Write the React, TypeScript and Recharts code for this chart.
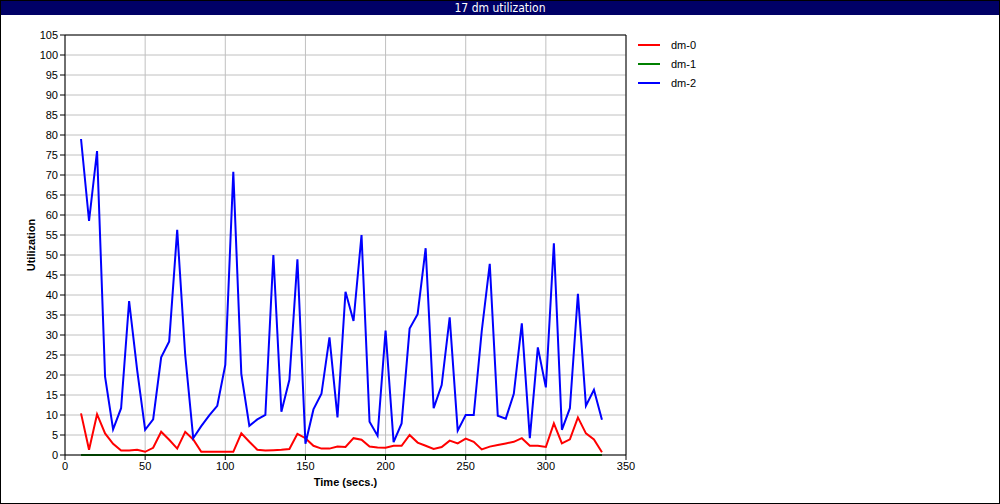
import {
  LineChart,
  Line,
  XAxis,
  YAxis,
  CartesianGrid,
  Legend,
  ReferenceLine,
  Label,
} from "recharts";

const TITLE = "17 dm utilization";

// sample times (secs.)
const times = [
  10, 15, 20, 25, 30, 35, 40, 45, 50, 55, 60, 65, 70, 75, 80, 85, 90, 95, 100,
  105, 110, 115, 120, 125, 130, 135, 140, 145, 150, 155, 160, 165, 170, 175,
  180, 185, 190, 195, 200, 205, 210, 215, 220, 225, 230, 235, 240, 245, 250,
  255, 260, 265, 270, 275, 280, 285, 290, 295, 300, 305, 310, 315, 320, 325,
  330, 335,
];

const dm0 = [
  10.4, 1.3, 10.2, 5.4, 2.8, 1.1, 1.1, 1.3, 0.8, 1.8, 5.8, 3.8, 1.6, 5.8, 3.9,
  0.8, 0.8, 0.8, 0.8, 0.8, 5.4, 3.3, 1.3, 1.1, 1.2, 1.3, 1.5, 5.3, 4.2, 2.3,
  1.6, 1.6, 2.1, 2.0, 4.2, 3.8, 2.1, 1.9, 1.8, 2.3, 2.3, 5.0, 3.1, 2.3, 1.5,
  2.0, 3.6, 2.9, 4.1, 3.3, 1.4, 2.1, 2.5, 2.9, 3.3, 4.2, 2.3, 2.3, 2.0, 7.9,
  2.9, 3.9, 9.4, 5.4, 3.9, 0.7,
];

const dm1 = [
  0, 0, 0, 0, 0, 0, 0, 0, 0, 0, 0, 0, 0, 0, 0, 0, 0, 0, 0, 0, 0, 0, 0, 0, 0,
  0, 0, 0, 0, 0, 0, 0, 0, 0, 0, 0, 0, 0, 0, 0, 0, 0, 0, 0, 0, 0, 0, 0, 0, 0,
  0, 0, 0, 0, 0, 0, 0, 0, 0, 0, 0, 0, 0, 0, 0, 0,
];

const dm2 = [
  79, 58.5, 76, 19.6, 6.4, 11.7, 38.5, 21.3, 6.3, 8.9, 24.4, 28.4, 56.3, 25,
  4.2, 7.2, 9.9, 12.3, 22.5, 70.8, 20.3, 7.3, 8.9, 10, 50, 10.8, 18.8, 48.9,
  2.8, 11.4, 15.3, 29.4, 9.4, 40.8, 33.5, 55, 8.3, 4.8, 31.1, 3.2, 7.9, 31.6,
  35.2, 51.7, 11.7, 17.5, 34.4, 6.1, 10, 10, 31, 47.8, 9.8, 9.1, 15.3, 32.9,
  4.2, 26.9, 16.9, 52.9, 6.3, 11.7, 40.3, 12.3, 16.3, 8.8,
];

const xTicks = [0, 50, 100, 150, 200, 250, 300, 350];
const yTicks = [
  0, 5, 10, 15, 20, 25, 30, 35, 40, 45, 50, 55, 60, 65, 70, 75, 80, 85, 90, 95,
  100, 105,
];

const series = [
  { key: "dm0", name: "dm-0", color: "#ff0000" },
  { key: "dm1", name: "dm-1", color: "#008000" },
  { key: "dm2", name: "dm-2", color: "#0000ff" },
];

const rows = times.map((t, i) => ({ t, dm0: dm0[i], dm1: dm1[i], dm2: dm2[i] }));

const FONT = "'Liberation Sans', Arial, sans-serif";

function LegendBox({ payload }: any) {
  return (
    <div>
      {(payload || []).map((p: any) => (
        <div
          key={p.value}
          style={{ display: "flex", alignItems: "center", height: 19 }}
        >
          <div
            style={{ width: 22, height: 2, background: p.color, marginRight: 11 }}
          />
          <span style={{ fontSize: 11, color: "#000", fontFamily: FONT }}>
            {p.value}
          </span>
        </div>
      ))}
    </div>
  );
}

export default function App() {
  return (
    <div
      style={{
        position: "fixed",
        left: 0,
        top: 0,
        width: 1000,
        height: 504,
        border: "1px solid #000",
        boxSizing: "border-box",
        background: "#fff",
        fontFamily: FONT,
      }}
    >
      <div
        style={{
          height: 14,
          background: "#000066",
          color: "#fff",
          fontFamily: "'Liberation Sans Narrow', 'DejaVu Sans Condensed', sans-serif",
          fontSize: 12,
          lineHeight: "14px",
          textAlign: "center",
        }}
      >
        {TITLE}
      </div>
      <div style={{ position: "absolute", left: -1, top: -1 }}>
        <LineChart
          width={1000}
          height={504}
          data={rows}
          margin={{ top: 35, right: 374, bottom: 0, left: 0 }}
        >
          <CartesianGrid stroke="#c0c0c0" strokeWidth={1} />
          <XAxis
            dataKey="t"
            type="number"
            domain={[0, 350]}
            ticks={xTicks}
            height={49}
            tickSize={5}
            tickMargin={2}
            stroke="#000"
            tick={{ fill: "#000", fontSize: 11, fontFamily: FONT }}
          >
            <Label
              content={() => (
                <text
                  x={345.5}
                  y={486}
                  textAnchor="middle"
                  fontSize={11}
                  fontWeight="bold"
                  fontFamily={FONT}
                  fill="#000"
                >
                  Time (secs.)
                </text>
              )}
            />
          </XAxis>
          <YAxis
            type="number"
            domain={[0, 105]}
            ticks={yTicks}
            width={65}
            tickSize={5}
            tickMargin={2}
            stroke="#000"
            interval={0}
            tick={{ fill: "#000", fontSize: 11, fontFamily: FONT }}
          >
            <Label
              content={() => (
                <text
                  x={35}
                  y={245}
                  transform="rotate(-90 35 245)"
                  textAnchor="middle"
                  fontSize={11}
                  fontWeight="bold"
                  fontFamily={FONT}
                  fill="#000"
                >
                  Utilization
                </text>
              )}
            />
          </YAxis>
          <ReferenceLine y={105} stroke="#000" strokeWidth={1} />
          <ReferenceLine x={350} stroke="#000" strokeWidth={1} />
          <Legend
            layout="vertical"
            align="center"
            verticalAlign="middle"
            content={<LegendBox />}
            wrapperStyle={{ left: 638, top: 35, width: 120 }}
          />
          {series.map((s) => (
            <Line
              key={s.key}
              dataKey={s.key}
              name={s.name}
              stroke={s.color}
              strokeWidth={2}
              dot={false}
              type="linear"
              isAnimationActive={false}
            />
          ))}
        </LineChart>
      </div>
    </div>
  );
}
